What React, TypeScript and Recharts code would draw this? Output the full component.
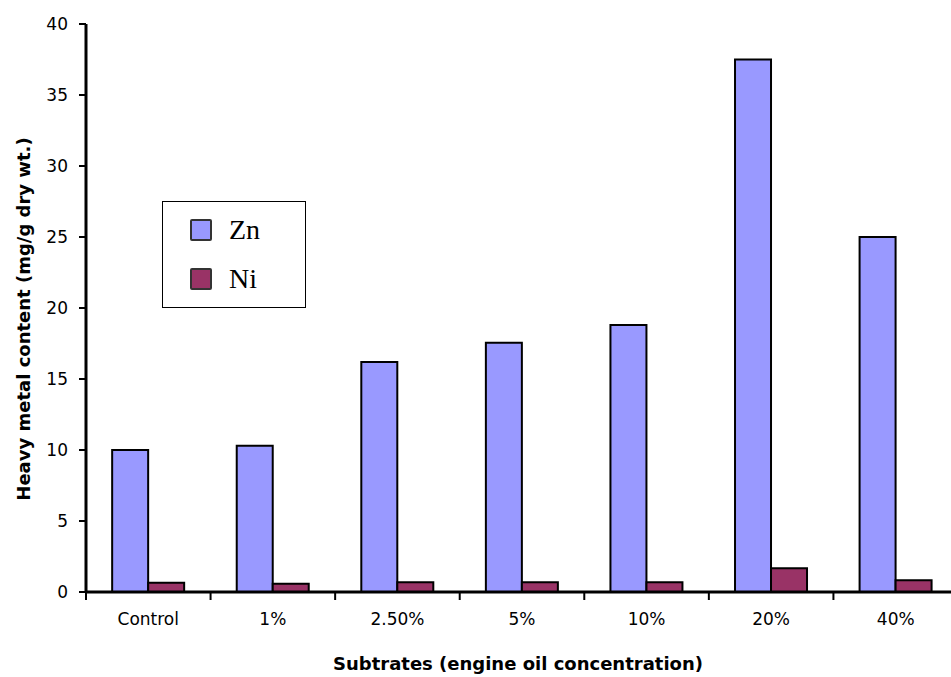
import React from "react";
import { BarChart, Bar, XAxis, YAxis, Legend, Label } from "recharts";

const categories = ["Control", "1%", "2.50%", "5%", "10%", "20%", "40%"];
const znValues = [10.0, 10.3, 16.2, 17.55, 18.8, 37.5, 25.0];
const niValues = [0.65, 0.58, 0.68, 0.68, 0.68, 1.67, 0.82];
const yTicks = [0, 5, 10, 15, 20, 25, 30, 35, 40];
const seriesOrder = ["Zn", "Ni"];

const data = categories.map((c, i) => ({ name: c, Zn: znValues[i], Ni: niValues[i] }));

const FONT = "'DejaVu Sans', Arial, sans-serif";
const CHART_W = 959;
const PLOT_LEFT = 86;
const PLOT_W = CHART_W - PLOT_LEFT - 1;
const BAND = PLOT_W / categories.length;

const CatTick = (props: any) => {
  const { x, y, payload, index } = props;
  const left = x - BAND / 2;
  const right = x + BAND / 2;
  return (
    <g>
      <line x1={left} y1={y - 8} x2={left} y2={y} stroke="#000" strokeWidth={2} />
      {index === categories.length - 1 && (
        <line x1={right} y1={y - 8} x2={right} y2={y} stroke="#000" strokeWidth={2} />
      )}
      <text x={x} y={y + 25} textAnchor="middle" fontFamily={FONT} fontSize={17} fill="#000">
        {payload.value}
      </text>
    </g>
  );
};

const LegendBox = (props: any) => {
  const payload = [...(props.payload || [])].sort(
    (a: any, b: any) => seriesOrder.indexOf(a.value) - seriesOrder.indexOf(b.value)
  );
  return (
    <div
      style={{
        position: "relative",
        width: 144,
        height: 107,
        border: "1px solid #000",
        background: "#fff",
        boxSizing: "border-box",
      }}
    >
      {payload.map((p: any, i: number) => (
        <div
          key={i}
          style={{
            position: "absolute",
            left: 0,
            top: 16 + i * 49,
            height: 24,
            display: "flex",
            alignItems: "center",
          }}
        >
          <div
            style={{
              width: 22,
              height: 22,
              marginLeft: 27,
              background: p.color,
              border: "2px solid #333",
              borderRadius: 2,
              boxSizing: "border-box",
            }}
          />
          <span
            style={{
              marginLeft: 17,
              fontFamily: "'Liberation Serif', 'Times New Roman', serif",
              fontSize: 28,
              lineHeight: "24px",
              color: "#000",
            }}
          >
            {p.value}
          </span>
        </div>
      ))}
    </div>
  );
};

export default function App() {
  return (
    <div style={{ position: "fixed", top: 0, left: 0, width: 951, height: 677, overflow: "hidden", background: "#fff" }}>
      <BarChart
        width={CHART_W}
        height={677}
        data={data}
        margin={{ top: 24, right: 1, bottom: 0, left: 0 }}
        barCategoryGap="21%"
        barGap={0}
      >
        <XAxis
          dataKey="name"
          axisLine={{ stroke: "#000", strokeWidth: 3 }}
          tickLine={false}
          tick={<CatTick />}
          height={85}
          interval={0}
        >
          <Label
            content={(p: any) => {
              const vb = p.viewBox;
              return (
                <text
                  x={518}
                  y={vb.y + 78}
                  textAnchor="middle"
                  fontFamily={FONT}
                  fontWeight="bold"
                  fontSize={18}
                  fill="#000"
                >
                  Subtrates (engine oil concentration)
                </text>
              );
            }}
          />
        </XAxis>
        <YAxis
          domain={[0, 40]}
          ticks={yTicks}
          width={PLOT_LEFT}
          axisLine={{ stroke: "#000", strokeWidth: 3 }}
          tickLine={{ stroke: "#000", strokeWidth: 2 }}
          tickSize={7}
          tickMargin={11}
          tick={{ fill: "#000", fontFamily: FONT, fontSize: 17 }}
          interval={0}
        >
          <Label
            content={(p: any) => {
              const vb = p.viewBox;
              const cy = vb.y + vb.height / 2 + 11;
              return (
                <text
                  x={30}
                  y={cy}
                  textAnchor="middle"
                  transform={`rotate(-90 30 ${cy})`}
                  fontFamily={FONT}
                  fontWeight="bold"
                  fontSize={18}
                  fill="#000"
                >
                  Heavy metal content (mg/g dry wt.)
                </text>
              );
            }}
          />
        </YAxis>
        <Legend
          content={<LegendBox />}
          layout="vertical"
          align="center"
          verticalAlign="middle"
          wrapperStyle={{ position: "absolute", left: 162, top: 201, width: 144, height: 107 }}
        />
        <Bar dataKey="Zn" name="Zn" fill="#9999FF" stroke="#000" strokeWidth={2} isAnimationActive={false} />
        <Bar dataKey="Ni" name="Ni" fill="#993366" stroke="#000" strokeWidth={2} isAnimationActive={false} />
      </BarChart>
    </div>
  );
}
